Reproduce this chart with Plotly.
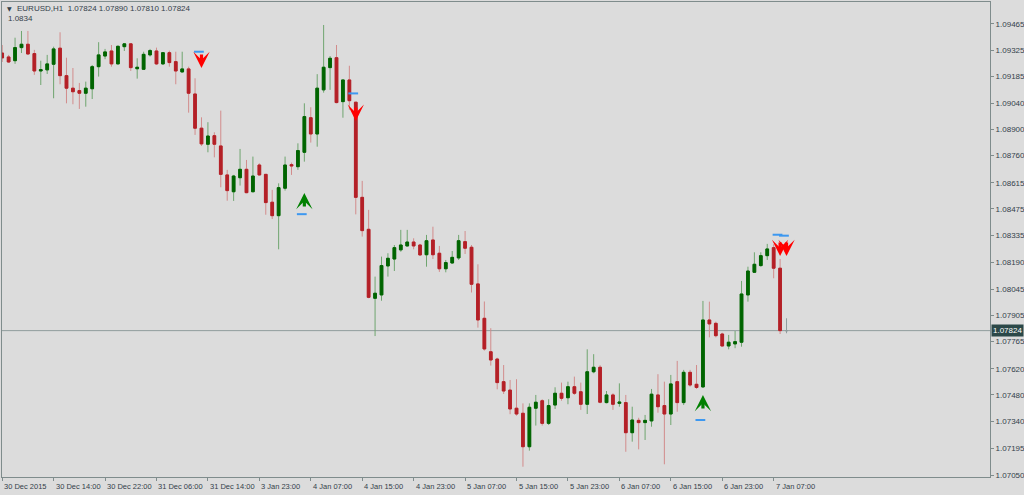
import plotly.graph_objects as go

# ---------------- data (EURUSD H1) ----------------
opens = [1.09309, 1.09288, 1.09268, 1.09338, 1.09356, 1.09306, 1.09213, 1.09219, 1.09249, 1.09335,
         1.09188, 1.09121, 1.09108, 1.09094, 1.09118, 1.09236, 1.09293, 1.09320, 1.09251, 1.09343,
         1.09358, 1.09225, 1.09222, 1.09299, 1.09320, 1.09251, 1.09311, 1.09263, 1.09208, 1.09224,
         1.09090, 1.08907, 1.08821, 1.08867, 1.08812, 1.08657, 1.08567, 1.08642, 1.08687, 1.08567,
         1.08710, 1.08660, 1.08511, 1.08439, 1.08586, 1.08712, 1.08701, 1.08778, 1.08963, 1.08876,
         1.09112, 1.09231, 1.09284, 1.09049, 1.09165, 1.09046, 1.08537, 1.08366, 1.07997, 1.08015,
         1.08170, 1.08207, 1.08256, 1.08277, 1.08298, 1.08282, 1.08230, 1.08309, 1.08238, 1.08155,
         1.08186, 1.08213, 1.08300, 1.08270, 1.08074, 1.07890, 1.07711, 1.07672, 1.07551, 1.07506,
         1.07409, 1.07382, 1.07203, 1.07409, 1.07449, 1.07328, 1.07426, 1.07489, 1.07465, 1.07524,
         1.07497, 1.07430, 1.07604, 1.07628, 1.07439, 1.07480, 1.07435, 1.07439, 1.07278, 1.07344,
         1.07332, 1.07341, 1.07480, 1.07423, 1.07378, 1.07551, 1.07439, 1.07601, 1.07537, 1.07523,
         1.07881, 1.07863, 1.07806, 1.07742, 1.07753, 1.07762, 1.08015, 1.08136, 1.08172, 1.08225,
         1.08268, 1.08158, 1.07824]
highs = [1.09352, 1.09299, 1.09391, 1.09427, 1.09427, 1.09326, 1.09268, 1.09299, 1.09343, 1.09420,
         1.09284, 1.09229, 1.09149, 1.09156, 1.09245, 1.09367, 1.09331, 1.09352, 1.09349, 1.09361,
         1.09360, 1.09281, 1.09316, 1.09331, 1.09338, 1.09313, 1.09322, 1.09316, 1.09316, 1.09236,
         1.09174, 1.08965, 1.08939, 1.08885, 1.09001, 1.08684, 1.08657, 1.08796, 1.08737, 1.08755,
         1.08719, 1.08660, 1.08577, 1.08612, 1.08755, 1.08723, 1.08826, 1.09040, 1.09019, 1.09196,
         1.09459, 1.09293, 1.09352, 1.09165, 1.09241, 1.09046, 1.08625, 1.08470, 1.08113, 1.08220,
         1.08238, 1.08282, 1.08363, 1.08363, 1.08318, 1.08288, 1.08336, 1.08380, 1.08277, 1.08202,
         1.08250, 1.08336, 1.08357, 1.08282, 1.08179, 1.07980, 1.07837, 1.07679, 1.07640, 1.07560,
         1.07564, 1.07435, 1.07435, 1.07480, 1.07457, 1.07457, 1.07521, 1.07546, 1.07551, 1.07578,
         1.07546, 1.07724, 1.07698, 1.07639, 1.07501, 1.07489, 1.07542, 1.07480, 1.07417, 1.07358,
         1.07373, 1.07512, 1.07591, 1.07551, 1.07587, 1.07662, 1.07614, 1.07614, 1.07640, 1.07983,
         1.07979, 1.07872, 1.07813, 1.07801, 1.07822, 1.08090, 1.08166, 1.08243, 1.08243, 1.08288,
         1.08286, 1.08207, 1.07890]
lows = [1.09261, 1.09256, 1.09251, 1.09309, 1.09299, 1.09192, 1.09138, 1.09197, 1.09067, 1.09142,
        1.09040, 1.09035, 1.09010, 1.09022, 1.09063, 1.09183, 1.09276, 1.09236, 1.09248, 1.09320,
        1.09213, 1.09172, 1.09219, 1.09290, 1.09245, 1.09245, 1.09236, 1.09142, 1.09204, 1.08990,
        1.08871, 1.08812, 1.08778, 1.08751, 1.08591, 1.08519, 1.08518, 1.08600, 1.08559, 1.08564,
        1.08653, 1.08444, 1.08421, 1.08259, 1.08573, 1.08657, 1.08684, 1.08728, 1.08830, 1.08808,
        1.09097, 1.09112, 1.09040, 1.08963, 1.09005, 1.08446, 1.08327, 1.07997, 1.07795, 1.07984,
        1.08113, 1.08143, 1.08246, 1.08274, 1.08259, 1.08223, 1.08166, 1.08207, 1.08138, 1.08136,
        1.08181, 1.08202, 1.08234, 1.08028, 1.07840, 1.07717, 1.07637, 1.07510, 1.07485, 1.07377,
        1.07369, 1.07096, 1.07182, 1.07316, 1.07316, 1.07319, 1.07405, 1.07449, 1.07430, 1.07480,
        1.07400, 1.07378, 1.07596, 1.07435, 1.07435, 1.07400, 1.07417, 1.07176, 1.07230, 1.07189,
        1.07239, 1.07310, 1.07385, 1.07109, 1.07319, 1.07390, 1.07426, 1.07524, 1.07512, 1.07517,
        1.07788, 1.07788, 1.07738, 1.07724, 1.07730, 1.07738, 1.07979, 1.08135, 1.08166, 1.08202,
        1.08104, 1.07806, 1.07810]
closes = [1.09283, 1.09261, 1.09338, 1.09356, 1.09304, 1.09213, 1.09220, 1.09251, 1.09331, 1.09188,
          1.09121, 1.09102, 1.09094, 1.09121, 1.09236, 1.09299, 1.09315, 1.09251, 1.09345, 1.09358,
          1.09231, 1.09233, 1.09302, 1.09322, 1.09251, 1.09311, 1.09258, 1.09213, 1.09224, 1.09094,
          1.08907, 1.08823, 1.08865, 1.08821, 1.08660, 1.08573, 1.08651, 1.08687, 1.08562, 1.08651,
          1.08657, 1.08509, 1.08439, 1.08589, 1.08710, 1.08705, 1.08787, 1.08969, 1.08876, 1.09121,
          1.09233, 1.09281, 1.09044, 1.09165, 1.09054, 1.08537, 1.08359, 1.08002, 1.08024, 1.08172,
          1.08211, 1.08268, 1.08282, 1.08298, 1.08277, 1.08229, 1.08305, 1.08230, 1.08155, 1.08188,
          1.08216, 1.08305, 1.08265, 1.08072, 1.07881, 1.07726, 1.07667, 1.07546, 1.07501, 1.07405,
          1.07378, 1.07203, 1.07414, 1.07441, 1.07328, 1.07423, 1.07489, 1.07462, 1.07524, 1.07489,
          1.07430, 1.07604, 1.07628, 1.07441, 1.07480, 1.07430, 1.07442, 1.07278, 1.07346, 1.07332,
          1.07344, 1.07484, 1.07417, 1.07378, 1.07539, 1.07439, 1.07601, 1.07533, 1.07520, 1.07881,
          1.07860, 1.07797, 1.07742, 1.07762, 1.07765, 1.08020, 1.08143, 1.08179, 1.08225, 1.08261,
          1.08158, 1.07824, 1.07824]

tick_idx = [0, 8, 16, 24, 32, 40, 48, 56, 64, 72, 80, 88, 96, 104, 112, 120]
tick_labels = ["30 Dec 2015", "30 Dec 14:00", "30 Dec 22:00", "31 Dec 06:00", "31 Dec 14:00",
               "3 Jan 23:00", "4 Jan 07:00", "4 Jan 15:00", "4 Jan 23:00", "5 Jan 07:00",
               "5 Jan 15:00", "5 Jan 23:00", "6 Jan 07:00", "6 Jan 15:00", "6 Jan 23:00",
               "7 Jan 07:00"]
ytick_vals = [1.09465, 1.09325, 1.09185, 1.09040, 1.08900, 1.08760, 1.08615, 1.08475, 1.08335,
              1.08190, 1.08045, 1.07905, 1.07765, 1.07620, 1.07480, 1.07340, 1.07195, 1.07050]

# signals: arrow from tail price to tip price, plus blue level dash
sell_idx = [31, 55, 121, 122]
sell_tail = [1.09309, 1.09026, 1.08304, 1.08304]
sell_tip = [1.09229, 1.08946, 1.08223, 1.08223]
sell_dash = [1.09316, 1.09093, 1.08337, 1.08332]
buy_idx = [47, 109]
buy_tail = [1.08480, 1.07400]
buy_tip = [1.08560, 1.07480]
buy_dash = [1.08447, 1.07346]

current_price = 1.07824
header = "EURUSD,H1  1.07824 1.07890 1.07810 1.07824"
sub_header = "1.0834"

# ---------------- styling ----------------
BG = "#dcdcdc"
AX = "#7f8c8c"
TXT = "#34414b"
GREEN = "#006400"
RED = "#b42027"
GREEN_W = "#6fa56f"
RED_W = "#d28c8c"
FONT = "Liberation Sans"

n = len(opens)
idx = list(range(n))
m = n - 1  # last (current) bar drawn separately
body_hi = [max(o, c) for o, c in zip(opens, closes)]
body_lo = [min(o, c) for o, c in zip(opens, closes)]

fig = go.Figure()
# wicks
fig.add_trace(go.Candlestick(
    x=idx[:m], open=opens[:m], high=highs[:m], low=lows[:m], close=closes[:m],
    increasing=dict(line=dict(color=GREEN_W, width=1), fillcolor=GREEN),
    decreasing=dict(line=dict(color=RED_W, width=1), fillcolor=RED),
    whiskerwidth=0, hoverinfo="skip"))
# bodies
fig.add_trace(go.Candlestick(
    x=idx[:m], open=opens[:m], high=body_hi[:m], low=body_lo[:m], close=closes[:m],
    increasing=dict(line=dict(color=GREEN, width=1), fillcolor=GREEN),
    decreasing=dict(line=dict(color=RED, width=1), fillcolor=RED),
    whiskerwidth=0, hoverinfo="skip"))
# current bar
fig.add_trace(go.Candlestick(
    x=idx[m:], open=opens[m:], high=highs[m:], low=lows[m:], close=closes[m:],
    increasing=dict(line=dict(color="#8f9c9c", width=1), fillcolor="#8f9c9c"),
    decreasing=dict(line=dict(color="#8f9c9c", width=1), fillcolor="#8f9c9c"),
    whiskerwidth=0, hoverinfo="skip"))

# blue level dashes
fig.add_trace(go.Scatter(
    x=[i - 0.4 for i in sell_idx + buy_idx], y=sell_dash + buy_dash, mode="markers",
    marker=dict(symbol="line-ew", size=7, line=dict(color="#3d98f0", width=2)),
    hoverinfo="skip"))

# arrows
for i, t0, t1 in zip(sell_idx, sell_tail, sell_tip):
    fig.add_annotation(x=i, y=t1, ax=i, ay=t0, xref="x", yref="y", axref="x", ayref="y",
                       text="", showarrow=True, arrowhead=3, arrowsize=0.85, arrowwidth=3.2,
                       arrowcolor="#ff0000", standoff=0)
for i, t0, t1 in zip(buy_idx, buy_tail, buy_tip):
    fig.add_annotation(x=i, y=t1, ax=i, ay=t0, xref="x", yref="y", axref="x", ayref="y",
                       text="", showarrow=True, arrowhead=3, arrowsize=0.85, arrowwidth=3.2,
                       arrowcolor="#008000", standoff=0)

# current price line + box
fig.add_shape(type="line", xref="paper", x0=0, x1=1, yref="y", y0=current_price, y1=current_price,
              line=dict(color="#8f9c9c", width=1), layer="below")
fig.add_annotation(xref="paper", x=1, y=current_price, yref="y", xanchor="left", xshift=1,
                   text=f"{current_price:.5f}", showarrow=False, bgcolor="#2b4848",
                   font=dict(family=FONT, size=8, color="#ffffff"), borderpad=1)

# x tick labels (left aligned after the tick like MT4)
for i, lab in zip(tick_idx, tick_labels):
    fig.add_annotation(x=i, y=0, xref="x", yref="paper", xanchor="left", yanchor="top",
                       yshift=-3, xshift=0, text=lab, showarrow=False,
                       font=dict(family=FONT, size=7.5, color=TXT))

# header
fig.add_annotation(xref="paper", yref="paper", x=0, y=1, xanchor="left", yanchor="top",
                   xshift=3, yshift=-1, text="▼", showarrow=False,
                   font=dict(family="DejaVu Sans", size=6, color=TXT))
fig.add_annotation(xref="paper", yref="paper", x=0, y=1, xanchor="left", yanchor="top",
                   xshift=13, yshift=0, text=header, showarrow=False,
                   font=dict(family=FONT, size=8, color=TXT))
fig.add_annotation(xref="paper", yref="paper", x=0, y=1, xanchor="left", yanchor="top",
                   xshift=4, yshift=-10, text=sub_header, showarrow=False,
                   font=dict(family=FONT, size=8, color=TXT))

fig.update_layout(
    width=1024, height=495,
    margin=dict(l=2, r=34, t=2, b=18),
    paper_bgcolor=BG, plot_bgcolor=BG,
    showlegend=False, boxgap=0.4,
    xaxis=dict(range=[-0.03, 153.65], tickvals=tick_idx, ticks="outside", ticklen=3,
               tickcolor=AX, showticklabels=False, showline=True, linecolor=AX, linewidth=1,
               mirror=True, showgrid=False, zeroline=False,
               rangeslider=dict(visible=False)),
    yaxis=dict(side="right", range=[1.07041, 1.09582], tickvals=ytick_vals,
               ticktext=[f"{v:.5f}" for v in ytick_vals], ticks="outside", ticklen=3,
               tickcolor=AX, tickfont=dict(family=FONT, size=8, color=TXT),
               showline=True, linecolor=AX, linewidth=1, mirror=True,
               showgrid=False, zeroline=False, automargin=False),
)

fig.write_html("out.html", config={"displayModeBar": False},
               post_script="document.body.style.margin='0';document.body.style.background='#dcdcdc';")
